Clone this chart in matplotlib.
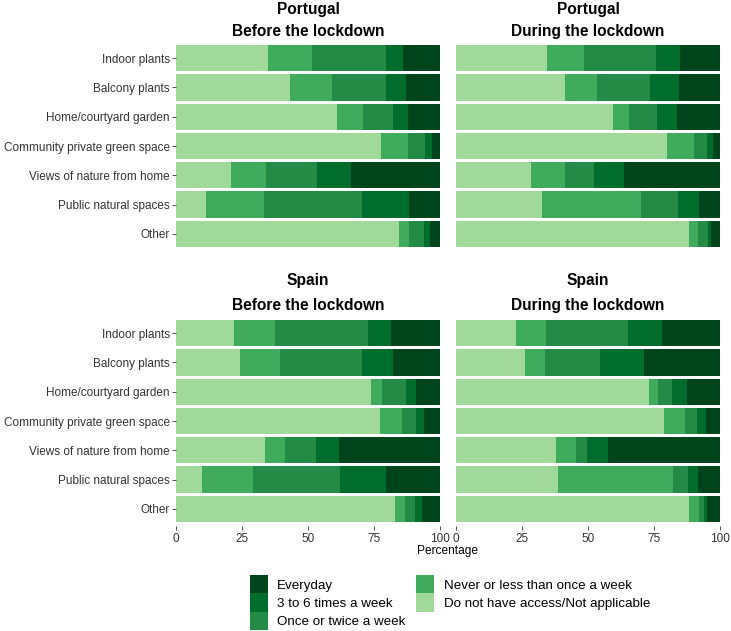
import matplotlib
matplotlib.use('Agg')
import matplotlib.pyplot as plt
from matplotlib.patches import Patch

plt.rcParams['font.family'] = ['Liberation Sans', 'DejaVu Sans']

categories = ['Indoor plants', 'Balcony plants', 'Home/courtyard garden',
              'Community private green space', 'Views of nature from home',
              'Public natural spaces', 'Other']

# stacking order left -> right
levels = ['Do not have access/Not applicable', 'Never or less than once a week',
          'Once or twice a week', '3 to 6 times a week', 'Everyday']
colors = ['#a1d99b', '#41ab5d', '#238b45', '#006d2c', '#00441b']

# rows = categories, columns = levels (percentages)
pt_before = [[35.0, 16.6, 27.9, 6.4, 14.1],
             [43.2, 16.0, 20.3, 7.6, 12.9],
             [61.1, 9.7, 11.4, 5.7, 12.1],
             [77.7, 10.2, 6.3, 2.6, 3.2],
             [21.0, 13.1, 19.3, 12.8, 33.8],
             [11.4, 21.8, 37.4, 17.7, 11.7],
             [84.6, 3.8, 5.6, 2.3, 3.7]]

pt_during = [[34.5, 14.1, 27.2, 9.0, 15.2],
             [41.2, 12.2, 20.2, 10.7, 15.7],
             [59.6, 6.1, 10.3, 7.7, 16.3],
             [79.8, 10.4, 4.9, 2.2, 2.7],
             [28.3, 12.9, 11.1, 11.3, 36.4],
             [32.6, 37.4, 14.1, 7.9, 8.0],
             [88.3, 3.4, 3.6, 1.3, 3.4]]

es_before = [[22.1, 15.4, 35.2, 8.7, 18.6],
             [24.2, 15.1, 31.2, 11.7, 17.8],
             [73.7, 4.2, 9.2, 3.9, 9.0],
             [77.3, 8.3, 5.4, 2.9, 6.1],
             [33.7, 7.7, 11.5, 9.0, 38.1],
             [10.0, 19.2, 33.0, 17.2, 20.6],
             [83.0, 3.9, 3.5, 2.7, 6.9]]

es_during = [[22.6, 11.5, 30.9, 13.0, 22.0],
             [26.1, 7.7, 20.7, 16.6, 28.9],
             [73.1, 3.3, 5.3, 5.8, 12.5],
             [78.8, 8.1, 4.3, 3.5, 5.3],
             [37.8, 7.5, 4.4, 8.0, 42.3],
             [38.6, 43.6, 5.6, 3.8, 8.4],
             [88.1, 3.9, 1.9, 1.2, 4.9]]

panels = [('Portugal', 'Before the lockdown', pt_before),
          ('Portugal', 'During the lockdown', pt_during),
          ('Spain', 'Before the lockdown', es_before),
          ('Spain', 'During the lockdown', es_during)]

W, H = 731, 631
fig = plt.figure(figsize=(W / 100, H / 100), dpi=100)

lefts = [176, 456]
tops = [40.6, 315.6]
pw, ph = 264, 210.8
title_base = [(14, 36), (285, 310)]
tick_col = '#333333'

for i, (country, period, data) in enumerate(panels):
    r, c = divmod(i, 2)
    ax = fig.add_axes([lefts[c] / W, 1 - (tops[r] + ph) / H, pw / W, ph / H])
    ypos = list(range(len(categories)))[::-1]
    left = [0.0] * len(categories)
    for j, lev in enumerate(levels):
        vals = [row[j] for row in data]
        ax.barh(ypos, vals, left=left, height=0.9, color=colors[j], linewidth=0)
        left = [a + b for a, b in zip(left, vals)]
    ax.set_xlim(0, 100)
    ax.set_ylim(-0.6, 6.6)
    for s in ax.spines.values():
        s.set_visible(False)
    ax.set_yticks(ypos)
    if c == 0:
        ax.set_yticklabels(categories, fontsize=8.5, color=tick_col)
        ax.tick_params(axis='y', length=2.75, width=0.6, color='#333333', pad=1.6)
    else:
        ax.set_yticklabels([])
        ax.tick_params(axis='y', length=0)
    ax.set_xticks([0, 25, 50, 75, 100])
    if r == 1:
        ax.set_xticklabels(['0', '25', '50', '75', '100'], fontsize=8.5, color=tick_col)
        ax.tick_params(axis='x', length=2.75, width=0.6, color='#333333', pad=2.2)
    else:
        ax.set_xticklabels([])
        ax.tick_params(axis='x', length=0)
    cx = (lefts[c] + pw / 2) / W
    fig.text(cx, 1 - title_base[r][0] / H, country, ha='center', va='baseline',
             fontsize=11.2, fontweight='bold')
    fig.text(cx, 1 - title_base[r][1] / H, period, ha='center', va='baseline',
             fontsize=11.2, fontweight='bold')

fig.text(448 / W, 1 - 551 / H, 'Percentage', ha='center', va='center', fontsize=8.6)

order = [4, 3, 2, 1, 0]
handles = [Patch(facecolor=colors[k], edgecolor='none', label=levels[k]) for k in order]
fig.legend(handles=handles, ncol=2, loc='upper left',
           bbox_to_anchor=(250 / W, 1 - 575 / H), frameon=False,
           fontsize=9.6, borderpad=0, borderaxespad=0, labelspacing=0,
           handlelength=1.35, handleheight=1.75, handletextpad=0.7, columnspacing=0.8)

fig.savefig('out.png', dpi=100)
